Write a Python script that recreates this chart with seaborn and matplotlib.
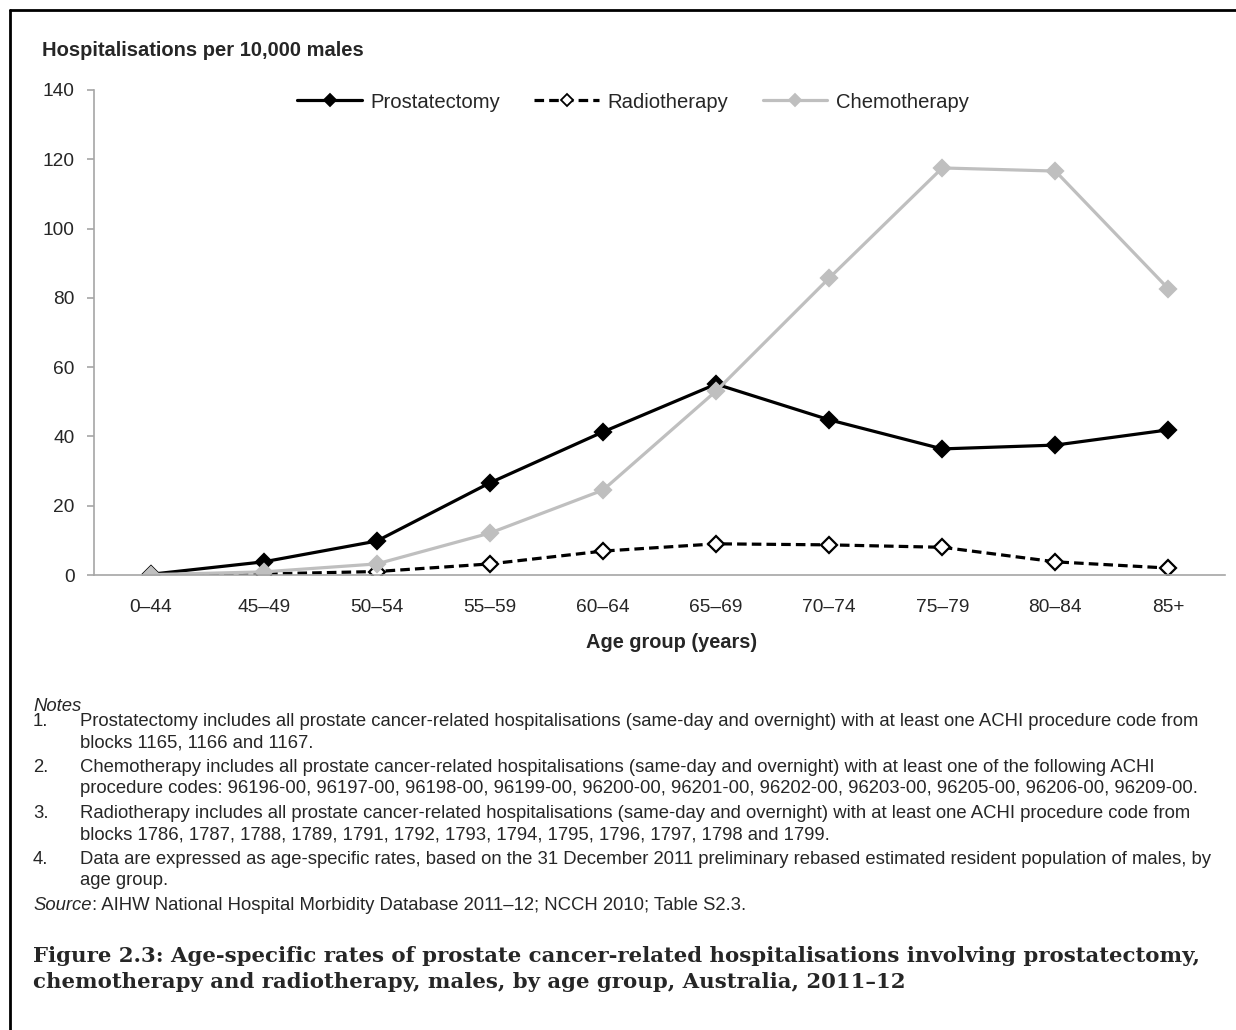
import pandas as pd
import matplotlib.pyplot as plt
from matplotlib.lines import Line2D
import seaborn as sns

# data
age_groups = ['0–44', '45–49', '50–54', '55–59', '60–64', '65–69', '70–74', '75–79', '80–84', '85+']
prostatectomy = [0.2, 3.8, 9.8, 26.6, 41.3, 55.1, 44.8, 36.4, 37.5, 41.9]
radiotherapy = [0.1, 0.3, 1.0, 3.2, 6.9, 9.0, 8.7, 8.0, 3.8, 2.0]
chemotherapy = [0.1, 0.9, 3.2, 12.1, 24.5, 53.1, 85.7, 117.5, 116.6, 82.6]
y_ticks = [0, 20, 40, 60, 80, 100, 120, 140]

notes = [
    ('1.', 'Prostatectomy includes all prostate cancer-related hospitalisations (same-day and overnight) with at least one ACHI procedure code from',
     'blocks 1165, 1166 and 1167.'),
    ('2.', 'Chemotherapy includes all prostate cancer-related hospitalisations (same-day and overnight) with at least one of the following ACHI',
     'procedure codes: 96196-00, 96197-00, 96198-00, 96199-00, 96200-00, 96201-00, 96202-00, 96203-00, 96205-00, 96206-00, 96209-00.'),
    ('3.', 'Radiotherapy includes all prostate cancer-related hospitalisations (same-day and overnight) with at least one ACHI procedure code from',
     'blocks 1786, 1787, 1788, 1789, 1791, 1792, 1793, 1794, 1795, 1796, 1797, 1798 and 1799.'),
    ('4.', 'Data are expressed as age-specific rates, based on the 31 December 2011 preliminary rebased estimated resident population of males, by',
     'age group.'),
]
source_text = ': AIHW National Hospital Morbidity Database 2011–12; NCCH 2010; Table S2.3.'
title_lines = ['Figure 2.3: Age-specific rates of prostate cancer-related hospitalisations involving prostatectomy,',
               'chemotherapy and radiotherapy, males, by age group, Australia, 2011–12']

sns.set_style('white')
plt.rcParams['font.family'] = ['Liberation Sans', 'DejaVu Sans']

W, H = 1236, 1030
fig = plt.figure(figsize=(W / 100, H / 100), dpi=100)
ax = fig.add_axes([94 / W, 1 - 575 / H, (1225 - 94) / W, (575 - 90) / H])

df = pd.DataFrame({'age': age_groups, 'Prostatectomy': prostatectomy,
                   'Radiotherapy': radiotherapy, 'Chemotherapy': chemotherapy})

grey = '#bfbfbf'
styles = {
    'Prostatectomy': dict(color='black', linestyle='-', mfc='black', mec='black'),
    'Radiotherapy': dict(color='black', linestyle=(0, (3.0, 1.6)), mfc='white', mec='black'),
    'Chemotherapy': dict(color=grey, linestyle='-', mfc=grey, mec=grey),
}
for name in ['Prostatectomy', 'Radiotherapy', 'Chemotherapy']:
    st = styles[name]
    sns.lineplot(data=df, x='age', y=name, ax=ax, color=st['color'], linewidth=2.3,
                 linestyle=st['linestyle'], marker='D', markersize=8.5,
                 markerfacecolor=st['mfc'], markeredgecolor=st['mec'], markeredgewidth=1.6)

ax.set_xlim(-0.5, len(age_groups) - 0.5)
ax.set_ylim(0, 140)
ax.set_yticks(y_ticks)
ax.set_xlabel('')
ax.set_ylabel('')
for side in ['top', 'right']:
    ax.spines[side].set_visible(False)
for side in ['left', 'bottom']:
    ax.spines[side].set_color('#a6a6a6')
    ax.spines[side].set_linewidth(1.2)
ax.tick_params(axis='y', length=5, color='#a6a6a6', width=1.2, labelsize=13.8, pad=9, left=True)
ax.tick_params(axis='x', length=0, labelsize=13.8, pad=17)

handles = [Line2D([], [], color=styles[n]['color'], linestyle=styles[n]['linestyle'], linewidth=2.3,
                  marker='D', markersize=6, markerfacecolor=styles[n]['mfc'],
                  markeredgecolor=styles[n]['mec'], markeredgewidth=1.3)
           for n in ['Prostatectomy', 'Radiotherapy', 'Chemotherapy']]
ax.legend(handles, ['Prostatectomy', 'Radiotherapy', 'Chemotherapy'], ncol=3, frameon=False,
          loc='center left', bbox_to_anchor=((297 - 94) / (1225 - 94) - 0.016, (575 - 102) / (575 - 90)),
          fontsize=14.6, handlelength=3.2, columnspacing=1.7, handletextpad=0.4)

fig.text(42 / W, 1 - 50 / H, 'Hospitalisations per 10,000 males', fontsize=14.5, fontweight='bold', va='center')
fig.text(672 / W, 1 - 642 / H, 'Age group (years)', fontsize=14.4, fontweight='bold', va='center', ha='center')

# notes block
fs = 13.35
renderer = fig.canvas.get_renderer()
fig.text(33 / W, 1 - 711 / H, 'Notes', fontsize=fs, style='italic', va='baseline')
y = 726
for num, l1, l2 in notes:
    fig.text(33 / W, 1 - y / H, num, fontsize=fs, va='baseline')
    fig.text(80 / W, 1 - y / H, l1, fontsize=fs, va='baseline')
    fig.text(80 / W, 1 - (y + 21) / H, l2, fontsize=fs, va='baseline')
    y += 46
src = fig.text(33 / W, 1 - 910 / H, 'Source', fontsize=fs, style='italic', va='baseline')
src_w = src.get_window_extent(renderer).width
fig.text((33 + src_w) / W, 1 - 910 / H, source_text, fontsize=fs, va='baseline')

# title, fitted to the width of the reference caption
title_font = dict(family=['DejaVu Serif'], fontweight='bold', va='baseline')
t1 = fig.text(33 / W, 1 - 962 / H, title_lines[0], fontsize=16, **title_font)
scale = 1162 / t1.get_window_extent(renderer).width
t1.set_fontsize(16 * scale)
fig.text(33 / W, 1 - 988 / H, title_lines[1], fontsize=16 * scale, **title_font)

# frame lines (left and top edges of the box)
fig.add_artist(Line2D([10 / W, 10 / W], [0, 1 - 10 / H], color='black', linewidth=2, transform=fig.transFigure))
fig.add_artist(Line2D([10 / W, 1], [1 - 10 / H, 1 - 10 / H], color='black', linewidth=2, transform=fig.transFigure))

fig.savefig('out.png', dpi=100)
